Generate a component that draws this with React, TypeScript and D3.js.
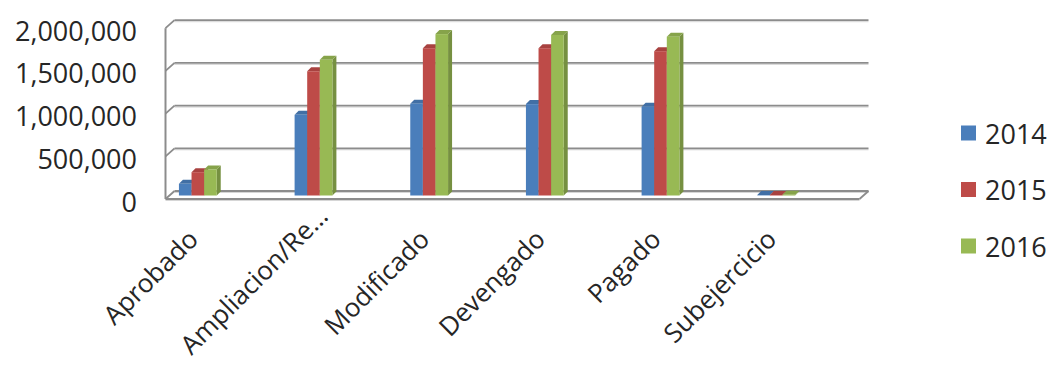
import React from "react";
import * as d3 from "d3";

const categories = ["Aprobado", "Ampliacion/Re…", "Modificado", "Devengado", "Pagado", "Subejercicio"];
const series = ["2014", "2015", "2016"];
const values2014 = [137000, 945000, 1074000, 1070000, 1040000, 5000];
const values2015 = [273000, 1455000, 1725000, 1725000, 1690000, 6000];
const values2016 = [305000, 1590000, 1890000, 1880000, 1860000, 9000];
const yTicks = [0, 500000, 1000000, 1500000, 2000000];

const seriesValues = [values2014, values2015, values2016];
const colors = ["#4a7ebb", "#be4b48", "#98b954"];

const W = 1051;
const H = 368;
const FONT = "'Open Sans', Calibri, sans-serif";

export default function App() {
  const depthX = 9;
  const depthY = 8;
  const frontLeft = 165.5;
  const frontRight = 859.5;
  const backLeft = frontLeft + depthX;
  const backRight = frontRight + depthX;

  const yBack = d3.scaleLinear().domain([0, 2000000]).range([191, 20.2]);
  const yFront = d3.scaleLinear().domain([0, 2000000]).range([191 + depthY, 28.2]);
  const yBar = d3.scaleLinear().domain([0, 2000000]).range([195.5, 24.7]);

  const x = d3.scaleBand<string>().domain(categories).range([140, 834]).paddingInner(0).paddingOuter(0);
  const groupW = 37.8;
  const xs = d3.scaleBand<string>().domain(series).range([0, groupW]);
  const bd = 4; // bar depth offset

  const fmt = d3.format(",");

  return (
    <svg width={W} height={H} style={{ position: "absolute", left: 0, top: 0, background: "#fff" }}>
      {/* gridlines on back wall + left wall */}
      <line x1={frontLeft} y1={yFront(0)} x2={frontLeft} y2={yFront(2000000)} stroke="#8c8c8c" strokeWidth={2} />
      {yTicks.map((t) => (
        <g key={"g" + t}>
          <line x1={backLeft} y1={yBack(t) + 1.5} x2={backRight} y2={yBack(t) + 1.5} stroke="#d6d6d6" strokeWidth={1} />
          <line x1={backLeft} y1={yBack(t)} x2={backRight} y2={yBack(t)} stroke="#8c8c8c" strokeWidth={1.8} />
          <line x1={frontLeft} y1={yFront(t)} x2={backLeft} y2={yBack(t)} stroke="#8c8c8c" strokeWidth={1.8} />
        </g>
      ))}
      {/* floor front edge */}
      <line x1={frontLeft} y1={yFront(0) + 1.5} x2={frontRight} y2={yFront(0) + 1.5} stroke="#d6d6d6" strokeWidth={1} />
      <line x1={frontLeft} y1={yFront(0)} x2={frontRight} y2={yFront(0)} stroke="#8c8c8c" strokeWidth={1.8} />
      <line x1={frontRight} y1={yFront(0)} x2={backRight} y2={yBack(0)} stroke="#8c8c8c" strokeWidth={1.8} />

      {/* bars */}
      {categories.map((c, ci) => {
        const gx = (x(c) as number) + (x.bandwidth() - groupW) / 2;
        return (
          <g key={c}>
            {series.map((s, si) => {
              const v = seriesValues[si][ci];
              const x0 = gx + (xs(s) as number);
              const w = xs.bandwidth();
              const y0 = yBar(0);
              const y1 = yBar(v);
              const base = d3.color(colors[si])!;
              const side = base.darker(0.7).toString();
              const top = base.darker(0.35).toString();
              return (
                <g key={s}>
                  <path d={`M${x0 + w},${y0} L${x0 + w + bd},${y0 - bd} L${x0 + w + bd},${y1 - bd} L${x0 + w},${y1} Z`} fill={side} />
                  <path d={`M${x0},${y1} L${x0 + bd},${y1 - bd} L${x0 + w + bd},${y1 - bd} L${x0 + w},${y1} Z`} fill={top} />
                  <rect x={x0} y={y1} width={w} height={Math.max(0, y0 - y1)} fill={colors[si]} />
                </g>
              );
            })}
          </g>
        );
      })}

      {/* y labels */}
      {yTicks.map((t) => (
        <text key={"t" + t} x={137} y={yFront(t) + 2} textAnchor="end" dominantBaseline="central" fontFamily={FONT} fontSize={27} fill="#262626">
          {fmt(t)}
        </text>
      ))}

      {/* category labels */}
      {categories.map((c) => {
        const cx = (x(c) as number) + x.bandwidth() / 2;
        const truncated = c.endsWith("…");
        const ax = truncated ? cx + 16 : cx + 2;
        const ay = truncated ? 218 : 241;
        return (
          <text key={"c" + c} x={ax} y={ay} transform={`rotate(-45 ${ax} ${ay})`} textAnchor="end" fontFamily={FONT} fontSize={26} fill="#262626">
            {c}
          </text>
        );
      })}

      {/* legend */}
      {series.map((s, i) => {
        const cy = 133 + i * 56.5;
        return (
          <g key={"l" + s}>
            <rect x={961} y={cy - 7.5} width={15} height={15} fill={colors[i]} />
            <text x={985} y={cy} dominantBaseline="central" fontFamily={FONT} fontSize={27} fill="#262626">
              {s}
            </text>
          </g>
        );
      })}
    </svg>
  );
}
